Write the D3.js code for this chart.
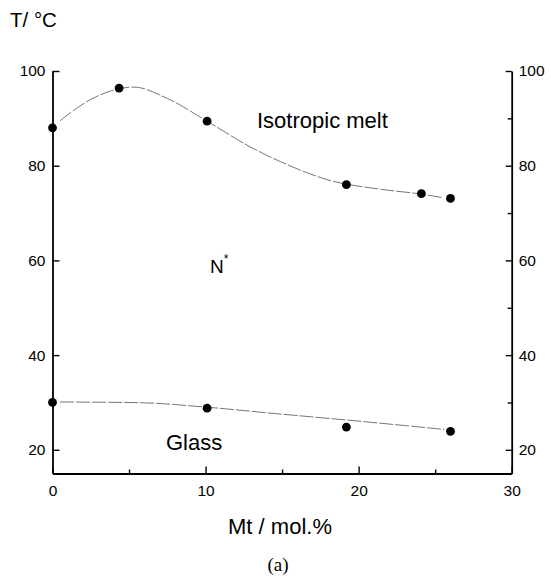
<!DOCTYPE html>
<html>
<head>
<meta charset="utf-8">
<script src="https://cdn.jsdelivr.net/npm/d3@7"></script>
<style>
  body { margin: 0; background: #fff; }
  svg text { font-family: Arial, "Liberation Sans", sans-serif; fill: #000; }
</style>
</head>
<body>
<svg id="chart" width="551" height="577"></svg>
<script>
// measured clearing points (Mt mol.% , T / °C)
const isoX = [0, 4.35, 10.1, 19.2, 24.1, 26.0];
const isoT = [88, 96.4, 89.4, 76.0, 74.1, 73.1];
const glassX = [0, 10.1, 19.2, 26.0];
const glassT = [30, 28.8, 24.8, 23.9];

// smooth fit lines as drawn in the figure
const isoFit = [[0.5, 89.5], [2.5, 94], [5.3, 96.6], [7.5, 94.2], [10.1, 89.4], [12.9, 84], [15, 80.7], [18, 77], [21.5, 75], [24.1, 74], [25.4, 73.3]];
const glassFit = [[0.5, 30.1], [5.7, 29.95], [10.1, 29.0], [14.4, 27.7], [19.2, 26.3], [25.6, 24.3]];

const xMajor = [0, 10, 20, 30];
const xMinor = [5, 15, 25];
const yMajor = [20, 40, 60, 80, 100];
const yMinor = [30, 50, 70, 90];

const svg = d3.select('#chart');

const x = d3.scaleLinear().domain([0, 30]).range([52.5, 511.7]);
const y = d3.scaleLinear().domain([15, 100]).range([473.5, 71]);

// fit curves
const line = d3.line()
  .x(d => x(d[0]))
  .y(d => y(d[1]))
  .curve(d3.curveMonotoneX);

[isoFit, glassFit].forEach(fit => {
  svg.append('path')
    .datum(fit)
    .attr('fill', 'none')
    .attr('stroke', '#666')
    .attr('stroke-width', 0.9)
    .attr('stroke-dasharray', '14,2')
    .attr('d', line);
});

// axes
const styleAxis = g => {
  g.select('.domain').attr('stroke', '#000').attr('stroke-width', 1.8);
  g.selectAll('.tick line').attr('stroke', '#000').attr('stroke-width', 1.4);
  g.selectAll('.tick text').attr('font-size', 15.5).attr('font-family', 'Arial, "Liberation Sans", sans-serif');
};

svg.append('g')
  .attr('transform', `translate(${x(0)},0)`)
  .call(d3.axisLeft(y).tickValues(yMajor).tickSizeInner(-7).tickSizeOuter(0).tickPadding(7))
  .call(styleAxis);

svg.append('g')
  .attr('transform', `translate(${x(30)},0)`)
  .call(d3.axisRight(y).tickValues(yMajor).tickSizeInner(-6).tickSizeOuter(0).tickPadding(7))
  .call(styleAxis);

svg.append('g')
  .attr('transform', `translate(${x(30)},0)`)
  .call(d3.axisRight(y).tickValues(yMinor).tickSizeInner(-4).tickSizeOuter(0).tickFormat(''))
  .call(styleAxis)
  .call(g => g.select('.domain').remove());

svg.append('g')
  .attr('transform', `translate(0,${y(15)})`)
  .call(d3.axisBottom(x).tickValues(xMajor).tickSizeInner(-7).tickSizeOuter(0).tickPadding(11))
  .call(styleAxis);

svg.append('g')
  .attr('transform', `translate(0,${y(15)})`)
  .call(d3.axisBottom(x).tickValues(xMinor).tickSizeInner(-4).tickSizeOuter(0).tickFormat(''))
  .call(styleAxis)
  .call(g => g.select('.domain').remove());

// data points
svg.append('g').selectAll('circle.iso')
  .data(d3.zip(isoX, isoT))
  .join('circle')
  .attr('cx', d => x(d[0]))
  .attr('cy', d => y(d[1]))
  .attr('r', 4.4)
  .attr('fill', '#000');

svg.append('g').selectAll('circle.glass')
  .data(d3.zip(glassX, glassT))
  .join('circle')
  .attr('cx', d => x(d[0]))
  .attr('cy', d => y(d[1]))
  .attr('r', 4.4)
  .attr('fill', '#000');

// labels
svg.append('text').attr('x', 10).attr('y', 27).attr('font-size', 20.5).text('T/ °C');
svg.append('text').attr('x', 257).attr('y', 128).attr('font-size', 22).text('Isotropic melt');
const n = svg.append('text').attr('x', 210).attr('y', 273).attr('font-size', 19);
n.append('tspan').text('N');
n.append('tspan').attr('dy', -10).attr('font-size', 12).text('*');
svg.append('text').attr('x', 166).attr('y', 450).attr('font-size', 22).text('Glass');
svg.append('text').attr('x', 280).attr('y', 534).attr('text-anchor', 'middle').attr('font-size', 22).text('Mt / mol.%');
svg.append('text').attr('x', 278).attr('y', 571).attr('text-anchor', 'middle')
  .attr('font-size', 19).style('font-family', '"Liberation Serif", "DejaVu Serif", serif').text('(a)');
</script>
</body>
</html>
